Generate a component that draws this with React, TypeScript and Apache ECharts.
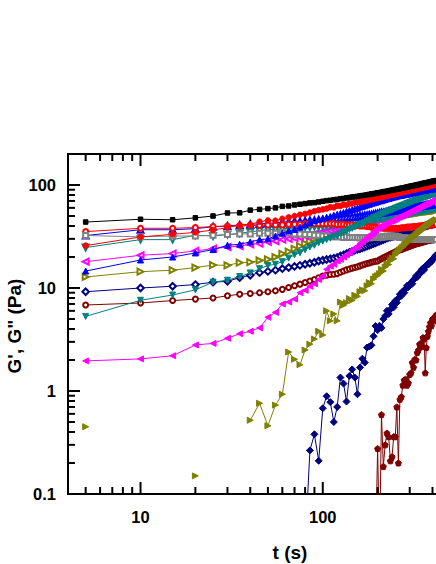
import React, { useEffect, useRef } from "react";
import * as echarts from "echarts";

const N = null;

const times = [
  5, 10, 15, 20, 25, 30, 35, 40, 45, 50,
  55, 60, 65, 70, 75, 80, 85, 90, 95, 100,
  105, 110, 115, 120, 125, 130, 135, 140, 145, 150,
  155, 160, 165, 170, 175, 180, 185, 190, 195, 200,
  205, 210, 215, 220, 225, 230, 235, 240, 245, 250,
  255, 260, 265, 270, 275, 280, 285, 290, 295, 300,
  305, 310, 315, 320, 325, 330, 335, 340, 345, 350,
  355, 360, 365, 370, 375, 380, 385, 390, 395, 400,
  405, 410, 415, 420,
];

const blackFilled = [
  43.7, 46.5, 46, 48, 50, 53.5, 53.7, 57, 58, 59,
  60, 62, 62.6, 64, 65, 66, 67, 67.4, 68.5, 69.5,
  70.5, 71, 72, 72.5, 73.5, 74, 75, 75.5, 76.5, 77,
  77.5, 78.5, 79, 79.5, 80.5, 81, 82, 82.5, 83, 84,
  84.5, 85, 86, 86.5, 87, 88, 88.5, 89, 90, 90.5,
  91, 91.5, 92.5, 93, 93.5, 94, 95, 95.5, 96, 97,
  97.5, 98, 98.5, 99, 100, 100.5, 101, 101.5, 102, 103,
  103.5, 104, 104.5, 105, 105.5, 106, 107, 107.5, 108, 108.5,
  109, 109.5, 110, 110.5,
];

const redFilled = [
  25.8, 31.3, 33.2, 34.7, 36.6, 38.6, 41, 41.5, 44, 45.3,
  45, 47, 48.5, 50, 51.5, 52.5, 54, 55.7, 57, 58,
  59, 61, 60.5, 63, 62.5, 64.5, 64, 66, 66, 67.5,
  68, 68.5, 69.5, 70, 71, 71.5, 72.5, 73, 74, 74.5,
  75.5, 76, 77, 77.5, 78.5, 79, 80, 80.5, 81, 82,
  82.5, 83, 84, 84.5, 85, 86, 86.5, 87, 87.5, 88.5,
  89, 89.5, 90, 90.5, 91.5, 92, 92.5, 93, 93.5, 94,
  94.5, 95, 95.5, 96, 96.5, 97, 97.5, 98, 98.5, 99,
  99.5, 100, 100.5, 101,
];

const blueFilled = [
  14.6, 18.7, 20, 21.9, 23.6, 26, 26.6, 28, 29.5, 30,
  32, 34, 35.8, 37, 39, 41, 43, 45, 46.4, 47.5,
  48.5, 49.5, 51, 52, 53, 54, 55.5, 56.5, 57.5, 58.5,
  59.5, 61, 62, 63, 64, 65, 66.5, 67, 68, 69,
  70, 70.5, 71.5, 72.5, 73.5, 74, 75, 76, 76.5, 77,
  78, 78.5, 79, 79.5, 80, 80.5, 81, 81.5, 82, 82.5,
  83.5, 84, 84.5, 85, 85.5, 86, 86.5, 87, 87.5, 88,
  88.5, 89, 89, 89.5, 90, 90.5, 91, 91, 91.5, 92,
  92, 92.5, 93, 93,
];

const tealFilled = [
  5.3, 7.6, 8.55, 9.6, 11.4, 11.9, 12.9, 14, 15.4, 16.5,
  17, 18, 19.5, 21, 22, 23.5, 25, 26, 27.5, 28.5,
  29.5, 30.5, 31.5, 32, 33.5, 34.5, 35.5, 37, 38, 39,
  40, 41, 42, 43, 44.5, 45.5, 46.5, 48, 49, 50,
  51, 52, 53, 54, 55, 56, 56.5, 57.5, 58.5, 59.5,
  60, 61, 62, 62.5, 63.5, 64, 65, 66, 66.5, 67.5,
  68, 69, 69.5, 70.5, 71, 72, 72.5, 73, 74, 74.5,
  75, 76, 76.5, 77, 77.5, 78, 78.5, 79, 80, 80.5,
  81, 81.5, 82, 82.5,
];

const magentaFilled = [
  1.96, 2.05, 2.2, 2.8, 2.9, 3.25, 3.6, 3.8, 4.1, 5.2,
  5.8, 7.0, 7.3, 7.8, 9.0, 9.5, 10.4, 11, 12.1, 13.1,
  15.2, 16.3, 17, 18.3, 19, 20, 21, 22, 23.5, 24.5,
  25.5, 27, 28, 29.6, 31, 32, 33.5, 35, 36.5, 38,
  39, 40, 41, 42, 43, 43.5, 44.5, 45, 46, 46.5,
  47.5, 48.5, 49, 50, 51, 51.5, 52.5, 53, 54, 55,
  55.5, 56.5, 57, 58, 59, 59.5, 60.5, 61, 62, 63,
  63.5, 64.5, 65, 66, 66.5, 67.5, 68, 69, 69.5, 70.5,
  71, 72, 73, 74,
];

const oliveFilled = [
  0.45, N, N, 0.15, N, N, N, 0.52, 0.76, 0.46,
  0.73, 0.93, 2.39, 2.03, 1.8, 2.5, 2.85, 3.2, 3.8, 3.5,
  6.0, 4.8, 5.6, 4.8, 7.3, 6.8, 7.2, 7.9, 7.6, 8.5,
  8.3, 9.2, 9.6, 9.4, 10.5, 11.3, 11.0, 12.2, 12.9, 13.2,
  13.8, 15.2, 14.6, 16.0, 17.2, 16.9, 18.4, 19.6, 19.2, 21.0,
  21.8, 22.6, 23.5, 24.3, 25.0, 25.8, 26.7, 27.5, 28.3, 29.0,
  29.8, 30.5, 31.3, 32.0, 32.8, 33.5, 34.2, 35, 35.8, 36.5,
  37.2, 38, 38.8, 39.5, 40.2, 41, 41.6, 42.3, 43, 43.6,
  44.2, 44.8, 45.5, 46,
];

const navyFilled = [
  N, N, N, N, N, N, N, N, N, N,
  N, N, N, N, N, 0.03, 0.265, 0.38, 0.21, 0.68,
  0.89, 0.78, 0.5, 0.7, 1.35, 1.18, 0.79, 1.4, 1.62, 1.35,
  0.93, 1.69, 2.06, 1.89, 2.64, 2.7, 2.78, 3.4, 4.27, 3.9,
  4.3, 4.1, 5.0, 5.35, 6.0, 5.6, 6.2, 6.9, 6.5, 7.5,
  7.2, 8.0, 8.7, 8.4, 9.3, 9.0, 9.8, 10.5, 10.2, 11.0,
  11.3, 11.0, 12.0, 12.4, 13.1, 12.8, 13.5, 14.2, 14.0, 15.2,
  15.5, 15.0, 16.2, 16.5, 17.0, 16.9, 17.6, 18.2, 18.0, 19.0,
  19.3, 19.8, 20.5, 21,
];

const maroonFilled = [
  N, N, N, N, N, N, N, N, N, N,
  N, N, N, N, N, N, N, N, N, N,
  N, N, N, N, N, N, N, N, N, N,
  N, N, N, N, N, N, N, N, 0.03, 0.276,
  0.03, 0.59, 0.185, 0.3, 0.39, 0.36, 0.21, 0.23, 0.36, 0.36,
  0.7, 0.2, 0.83, 0.88, 1.14, 1.28, 1.3, 1.14, 1.2, 1.45,
  1.5, 1.89, 1.7, 2.03, 2.0, 2.36, 2.5, 2.84, 2.9, 2.7,
  3.3, 3.2, 1.5, 2.64, 3.4, 3.8, 4.2, 4.6, 4.3, 4.97,
  5.1, 4.8, 5.3, 5.5,
];

const grayOpen = [
  32.3, 31.4, 32, 32, 32.5, 33, 33.5, 33.5, 34, 34,
  34, 34.5, 34, 33.5, 33.5, 33, 33, 32.5, 32.5, 32,
  32, 31.5, 31.5, 31.5, 31.5, 31, 31.5, 31, 31, 31,
  31, 30.5, 31, 30.5, 31, 30.5, 31, 31, 31.5, 31,
  31.5, 31, 31.5, 31.5, 32, 31.5, 32, 32, 31.5, 32,
  31.5, 31.5, 31, 31, 31, 30.5, 30.5, 30.5, 30, 30,
  30, 30, 30, 29.5, 29.5, 29.5, 29.5, 29.5, 29.5, 29.5,
  29.5, 29.5, 29.5, 29.5, 29.5, 29.5, 29.5, 29.5, 29.5, 29.5,
  29.5, 29.5, 29.5, 29.5,
];

const redOpen = [
  35.3, 38, 38, 38.6, 39.5, 40, 40, 40.5, 40.5, 41,
  41, 41, 41.5, 41.5, 41.5, 42, 42, 42, 42, 42,
  42, 42, 42, 41.5, 41.5, 41.5, 41, 41, 41, 40.5,
  40.5, 40, 40, 40, 39.5, 39.5, 39, 39, 39, 38.5,
  38.5, 38.5, 38, 38, 38, 38, 38, 38, 38, 38,
  38, 38, 38, 38.5, 38.5, 38.5, 38.5, 39, 39, 39,
  39, 39, 39.5, 39.5, 39.5, 39.5, 40, 40, 40, 40,
  40, 40.5, 40.5, 40.5, 40.5, 41, 41, 41, 41, 41,
  41.5, 41.5, 41.5, 41.5,
];

const blueOpen = [
  32.3, 36.8, 36.8, 37.7, 39.3, 40, 41, 41.5, 42, 42.5,
  43, 43.5, 44, 44.5, 44.5, 45, 45.5, 45.5, 46, 46,
  46.5, 47, 47, 47.5, 47.5, 48, 48.5, 48.5, 49, 49,
  49.5, 50, 50, 50.5, 51, 51.5, 51.5, 52, 52.5, 53,
  53.5, 54, 54, 54.5, 55, 55.5, 55.5, 56, 56.5, 57,
  57, 57.5, 58, 58, 58.5, 58.5, 59, 59.5, 59.5, 60,
  60.5, 60.5, 61, 61, 61.5, 61.5, 62, 62, 62.5, 62.5,
  63, 63, 63.5, 63.5, 64, 64, 64.5, 64.5, 65, 65,
  65.5, 65.5, 66, 66,
];

const tealOpen = [
  24.7, 29.5, 29.5, 32.5, 32, 33, 34, 35, 36, 37,
  37, 37.5, 38, 38, 38.5, 39, 39, 39.5, 39.5, 40,
  40.5, 40.5, 41, 41, 41.5, 42, 42, 42.5, 42.5, 43,
  43.5, 44, 44, 44.5, 45, 45, 45.5, 46, 46.5, 47,
  47.5, 47.5, 48, 48.5, 49, 49, 49.5, 50, 50.5, 51,
  51, 51.5, 52, 52, 52.5, 53, 53, 53.5, 53.5, 54,
  54.5, 54.5, 55, 55.5, 55.5, 56, 56, 56.5, 56.5, 57,
  57, 57.5, 57.5, 58, 58, 58.5, 58.5, 59, 59, 59.5,
  59.5, 60, 60, 60,
];

const magentaOpen = [
  18, 20.8, 21.6, 22.9, 24.1, 25, 25.5, 26.5, 27, 28,
  28.5, 29.5, 30, 30.5, 31, 32, 32.5, 33.5, 34, 35,
  35.5, 36, 37, 37.5, 38, 38.5, 39.5, 40, 41, 42,
  42.5, 43, 43.5, 44, 44.5, 45, 45.5, 46, 46.5, 47,
  47.5, 48, 48.5, 49, 49.5, 50, 50.5, 51, 51.5, 52,
  52.5, 53, 53, 53.5, 54, 54.5, 55, 55, 55.5, 56,
  56.5, 57, 57, 57.5, 58, 58.5, 58.5, 59, 59.5, 60,
  60, 60.5, 61, 61, 61.5, 62, 62, 62.5, 63, 63,
  63.5, 63.5, 64, 64,
];

const oliveOpen = [
  12.8, 14.4, 14.9, 15.8, 16.7, 16.6, 17.6, 17.8, 18.5, 19,
  20, 21.5, 22.5, 24, 25.5, 27, 28.5, 30, 31, 32,
  33, 34, 35, 36, 37, 37.5, 38.5, 39, 39.5, 40,
  40.5, 41, 41.5, 42, 42.5, 43, 43.5, 44, 44.5, 45,
  45.5, 46, 46.5, 47, 47, 47.5, 48, 48.5, 48.5, 49,
  49.5, 49.5, 50, 50.5, 50.5, 51, 51, 51.5, 51.5, 52,
  52.5, 52.5, 53, 53, 53.5, 53.5, 54, 54, 54.5, 54.5,
  55, 55, 55, 55.5, 55.5, 55.5, 56, 56, 56, 56.5,
  56.5, 56.5, 57, 57,
];

const navyOpen = [
  9.2, 10, 10.4, 10.8, 11.4, 11.6, 12.6, 13.3, 14.1, 14.5,
  14.9, 15.4, 15.8, 16.2, 16.6, 17, 17.4, 17.8, 18.3, 18.6,
  18.9, 19.2, 19.5, 19.8, 20.5, 21, 21.6, 22.2, 22.7, 23.2,
  23.7, 24, 24.5, 25, 25.5, 26, 26.5, 27, 27.5, 28,
  28.5, 29, 29.5, 30, 30.5, 31, 31.3, 31.6, 32, 32.5,
  33, 33.3, 33.6, 34, 34.3, 34.7, 35, 35.3, 35.6, 36,
  36.3, 36.6, 37, 37.3, 37.6, 38, 38.3, 38.6, 38.9, 39.2,
  39.5, 39.8, 40, 40.3, 40.6, 40.9, 41.2, 41.4, 41.6, 41.8,
  42, 42, 42.2, 42.4,
];

const maroonOpen = [
  6.84, 7.15, 7.55, 7.8, 8.0, 8.4, 8.7, 8.85, 9, 9.2,
  9.4, 9.7, 10.1, 10.5, 10.9, 11.3, 11.7, 12.1, 12.6, 13.1,
  13.3, 13.5, 13.6, 13.8, 14.2, 14.6, 15, 15.3, 15.6, 15.8,
  16.1, 16.4, 16.7, 17, 17.3, 17.5, 17.8, 18, 18.2, 18.3,
  18.8, 19.2, 19.6, 20, 20.4, 20.8, 21.2, 21.6, 22, 22.4,
  22.8, 23.2, 23.5, 23.7, 24, 24.3, 24.6, 24.9, 25.2, 25.5,
  25.8, 26, 26.3, 26.6, 26.8, 27, 27.2, 27.4, 27.6, 27.8,
  28, 28.2, 28.4, 28.6, 28.8, 29, 29.1, 29.2, 29.3, 29.4,
  29.5, 29.5, 29.6, 29.6,
];

const xMinorTicks = [5, 6, 7, 8, 9, 20, 30, 40, 50, 60, 70, 80, 90, 200, 300, 400, 500, 600, 700, 800, 900];
const xMajorTicks = [10, 100, 1000];
const xTickLabels = ["10", "100"];
const yMinorTicks = [0.2, 0.3, 0.4, 0.5, 0.6, 0.7, 0.8, 0.9, 2, 3, 4, 5, 6, 7, 8, 9, 20, 30, 40, 50, 60, 70, 80, 90];
const yMajorTicks = [0.1, 1, 10, 100];
const yTickLabels = ["0.1", "1", "10", "100"];

const PENTAGON = "path://M0,-10L9.51,-3.09L5.88,8.09L-5.88,8.09L-9.51,-3.09Z";

type Spec = { name: string; data: (number | null)[]; color: string; symbol: string; size: number; rotate?: number };

const specs: Spec[] = [
  { name: "maroonOpen", data: maroonOpen, color: "#800000", symbol: "emptyCircle", size: 5 },
  { name: "navyOpen", data: navyOpen, color: "#000080", symbol: "emptyDiamond", size: 6.5 },
  { name: "oliveOpen", data: oliveOpen, color: "#808000", symbol: "emptyTriangle", size: 6, rotate: -90 },
  { name: "magentaOpen", data: magentaOpen, color: "#ff00ff", symbol: "emptyTriangle", size: 6, rotate: 90 },
  { name: "tealOpen", data: tealOpen, color: "#008080", symbol: "emptyTriangle", size: 6, rotate: 180 },
  { name: "blueOpen", data: blueOpen, color: "#0000ff", symbol: "emptyTriangle", size: 6 },
  { name: "redOpen", data: redOpen, color: "#ff0000", symbol: "emptyCircle", size: 5 },
  { name: "grayOpen", data: grayOpen, color: "#808080", symbol: "emptyRect", size: 5 },
  { name: "maroonFilled", data: maroonFilled, color: "#800000", symbol: PENTAGON, size: 6 },
  { name: "navyFilled", data: navyFilled, color: "#000080", symbol: "diamond", size: 7 },
  { name: "oliveFilled", data: oliveFilled, color: "#808000", symbol: "triangle", size: 6, rotate: -90 },
  { name: "magentaFilled", data: magentaFilled, color: "#ff00ff", symbol: "triangle", size: 6, rotate: 90 },
  { name: "tealFilled", data: tealFilled, color: "#008080", symbol: "triangle", size: 6, rotate: 180 },
  { name: "blueFilled", data: blueFilled, color: "#0000ff", symbol: "triangle", size: 6 },
  { name: "redFilled", data: redFilled, color: "#ff0000", symbol: "circle", size: 5.5 },
  { name: "blackFilled", data: blackFilled, color: "#000000", symbol: "rect", size: 4.5 },
];

const FONT = '"Liberation Sans", Arial, Helvetica, sans-serif';

function labelFor(v: number, majors: number[], labels: string[]): string {
  for (let i = 0; i < majors.length; i++) {
    if (Math.abs(Math.log10(v) - Math.log10(majors[i])) < 1e-6) return labels[i] ?? "";
  }
  return "";
}

export default function App() {
  const ref = useRef<HTMLDivElement>(null);
  useEffect(() => {
    if (!ref.current) return;
    const chart = echarts.init(ref.current, null, { renderer: "svg" });
    const series = specs.map((s, i) => ({
      type: "line",
      name: s.name,
      data: times.map((t, k) => [t, s.data[k] == null ? "-" : s.data[k]]),
      symbol: s.symbol,
      symbolSize: s.size,
      symbolRotate: s.rotate || 0,
      showSymbol: true,
      showAllSymbol: true,
      connectNulls: false,
      clip: true,
      z: 2 + i * 0.01,
      lineStyle: { color: s.color, width: 1 },
      itemStyle: { color: s.color, borderColor: s.color, borderWidth: 1 },
      emphasis: { disabled: true },
      silent: true,
    }));
    const labelStyle = { fontFamily: FONT, fontWeight: "bold", fontSize: 16.5, color: "#000" };
    chart.setOption({
      animation: false,
      backgroundColor: "#fff",
      grid: {
        left: 68,
        top: 154,
        width: 437,
        height: 340,
        show: true,
        borderColor: "#000",
        borderWidth: 2,
        backgroundColor: "transparent",
        containLabel: false,
      },
      xAxis: {
        type: "log",
        logBase: 10,
        min: 4,
        max: 1000,
        axisLine: { show: false },
        axisTick: { show: false },
        minorTick: { show: false },
        splitLine: { show: false },
        axisLabel: { ...labelStyle, margin: 14, formatter: (v: number) => labelFor(v, xMajorTicks, xTickLabels) },
      },
      yAxis: {
        type: "log",
        logBase: 10,
        min: 0.1,
        max: 200,
        axisLine: { show: false },
        axisTick: { show: false },
        minorTick: { show: false },
        splitLine: { show: false },
        axisLabel: { ...labelStyle, margin: 12, formatter: (v: number) => labelFor(v, yMajorTicks, yTickLabels) },
      },
      series,
    });

    const xp = (v: number) => chart.convertToPixel({ xAxisIndex: 0 }, v) as number;
    const yp = (v: number) => chart.convertToPixel({ yAxisIndex: 0 }, v) as number;
    const xL = xp(4);
    const xR = xp(1000);
    const yB = yp(0.1);
    const yT = yp(200);
    const g: any[] = [];
    const line = (x1: number, y1: number, x2: number, y2: number) =>
      g.push({ type: "line", silent: true, z: 100, shape: { x1, y1, x2, y2 }, style: { stroke: "#000", lineWidth: 2 } });
    const MAJ = 12;
    const MIN = 7;
    xMajorTicks.forEach((v) => { const x = xp(v); line(x, yB, x, yB - MAJ); line(x, yT, x, yT + MAJ); });
    xMinorTicks.forEach((v) => { const x = xp(v); line(x, yB, x, yB - MIN); line(x, yT, x, yT + MIN); });
    yMajorTicks.forEach((v) => { const y = yp(v); line(xL, y, xL + MAJ, y); line(xR, y, xR - MAJ, y); });
    yMinorTicks.forEach((v) => { const y = yp(v); line(xL, y, xL + MIN, y); line(xR, y, xR - MIN, y); });
    g.push({
      type: "text", silent: true, x: 290, y: 552,
      style: { text: "t (s)", fontFamily: FONT, fontWeight: "bold", fontSize: 19, fill: "#000", align: "center", verticalAlign: "middle" },
    });
    g.push({
      type: "text", silent: true, x: 14, y: 326, rotation: Math.PI / 2,
      style: { text: "G', G\" (Pa)", fontFamily: FONT, fontWeight: "bold", fontSize: 19, fill: "#000", align: "center", verticalAlign: "middle" },
    });
    chart.setOption({ graphic: g });
    return () => chart.dispose();
  }, []);
  return (
    <div style={{ position: "fixed", left: 0, top: 0, width: 436, height: 564, overflow: "hidden", background: "#fff" }}>
      <div ref={ref} style={{ width: 600, height: 564 }} />
    </div>
  );
}
